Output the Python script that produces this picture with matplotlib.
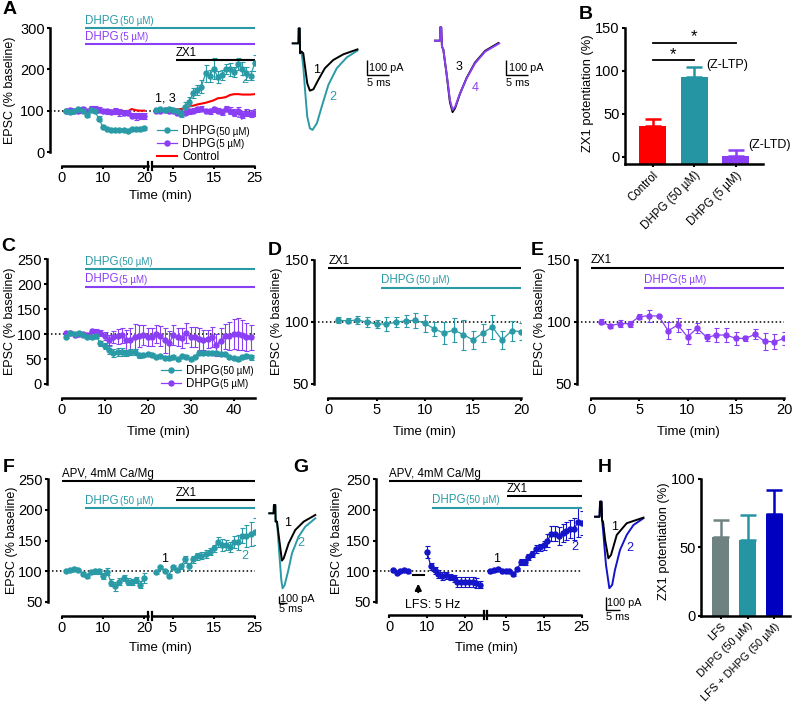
import numpy as np
import matplotlib
matplotlib.use('Agg')
import matplotlib.pyplot as plt
import matplotlib.transforms as mtransforms
from matplotlib.lines import Line2D

plt.rcParams['font.family'] = ['Liberation Sans', 'DejaVu Sans']
plt.rcParams['font.size'] = 9

TEAL = '#2a9ba6'
PURPLE = '#8b3ff5'
RED = '#ff0000'
BLUE = '#1414c8'
GREY = '#6e8282'

# ---------------- data ----------------
# A: time course (two segments split by the axis break)
a_t_pre = np.arange(1, 21)
a_t_post = np.arange(1, 26)
a50_pre = [98, 96, 98, 104, 99, 90, 101, 99, 80, 60, 55, 53, 53, 53, 53, 52, 55, 55, 56, 57]
a50_pre_err = [3, 4, 3, 4, 5, 6, 5, 5, 6, 5, 4, 3, 3, 3, 3, 3, 4, 4, 4, 4]
a50_post = [102, 103, 101, 103, 101, 99, 92, 110, 122, 142, 150, 158, 190, 184, 202, 181, 186, 200,
            200, 194, 213, 202, 190, 185, 215]
a50_post_err = [4, 4, 4, 5, 5, 6, 8, 10, 10, 12, 12, 15, 20, 15, 25, 15, 12, 12, 15, 12, 15, 15, 15, 12, 20]
a5_pre = [100, 102, 100, 100, 103, 98, 104, 105, 102, 100, 98, 96, 100, 96, 95, 95, 88, 86, 87, 88]
a5_pre_err = [4, 5, 4, 6, 7, 5, 8, 6, 6, 5, 6, 5, 7, 8, 6, 6, 6, 8, 8, 7]
a5_post = [100, 100, 101, 99, 100, 95, 94, 95, 98, 100, 103, 105, 100, 98, 103, 100, 97, 105, 100, 95,
           100, 90, 95, 93, 95]
a5_post_err = [3, 3, 3, 4, 4, 5, 5, 5, 6, 6, 6, 6, 5, 6, 7, 6, 7, 7, 8, 8, 8, 8, 8, 8, 9]
actrl_pre = [101, 101, 100, 101, 100, 101, 100, 100, 100, 101, 100, 100, 99, 98, 97, 98, 104, 101, 100, 100]
actrl_post = [99, 98, 99, 100, 101, 103, 104, 106, 110, 112, 115, 117, 119, 122, 125, 130, 131, 133,
              138, 140, 140, 139, 139, 139, 140]

# A: example EPSCs (ms, pA)
tr1_t = [0, 1.3, 1.36, 1.6, 1.67, 2.0, 2.4, 2.8, 3.3, 3.9, 4.7, 5.8, 7.3, 9.2, 11.5, 14.7]
tr1_v = [44, 44, 144, 144, -22, -11, -22, -111, -222, -271, -262, -200, -122, -67, -29, 4]
tr2_t = [0, 1.3, 1.36, 1.6, 1.67, 2.0, 2.4, 2.8, 3.3, 3.9, 4.5, 5.5, 6.6, 8.1, 10, 12.3, 14.7]
tr2_v = [44, 44, 144, 144, -22, -11, -111, -266, -444, -522, -533, -488, -377, -233, -122, -49, -4]
tr3_t = [0, 1.14, 1.2, 1.44, 1.6, 1.9, 2.65, 3.4, 4.0, 4.6, 5.7, 7.2, 9.1, 11.4, 14.4]
tr3_v = [18, 18, 107, 107, -22, -40, -205, -390, -458, -430, -335, -230, -128, -50, 2]
tr4_t = [0, 1.14, 1.2, 1.44, 1.6, 1.9, 2.65, 3.4, 4.0, 4.6, 5.7, 7.2, 9.1, 11.4, 14.6]
tr4_v = [18, 18, 107, 107, -22, -40, -200, -377, -444, -422, -333, -233, -133, -55, 0]

# B: ZX1 potentiation
b_labels = ['Control', 'DHPG (50 µM)', 'DHPG (5 µM)']
b_vals = [36, 93, 1]
b_err = [7.5, 11.5, 7]
b_colors = [RED, '#2595a3', PURPLE]

# C: long DHPG application
c_t = np.arange(1, 45)
c50 = [95, 103, 100, 101.6, 98, 95, 93.6, 96, 81.5, 76, 68, 61.5, 65, 63.5, 63, 63.5, 65, 58, 58, 60,
       58, 55, 56, 53, 51.5, 55, 49.5, 56, 55, 50, 55, 63, 61.5, 63, 61.5, 63, 60, 60, 53.5, 51.5,
       50, 53.5, 56, 53.5]
c50_err = [3, 3, 3, 3, 3, 3, 3, 4, 5, 6, 8, 8, 8, 8, 6, 6, 6, 5, 4, 4, 4, 3, 3, 3, 3, 3, 3, 3, 3, 3,
           3, 4, 4, 4, 4, 4, 4, 3, 3, 3, 3, 3, 4, 5]
c5 = [101.6, 103, 98, 100, 100, 98, 107, 105, 103, 96, 88, 95, 96, 98, 88, 88, 95, 96, 98, 95, 95, 100,
      96, 88, 81.5, 98, 95, 91.6, 101.6, 95, 95, 89.6, 88, 89.6, 93.6, 78, 87, 96, 96, 100, 100, 98,
      95, 93.6]
c5_err = [3, 3, 3, 3, 3, 4, 4, 5, 6, 8, 10, 12, 15, 15, 20, 25, 25, 22, 20, 18, 18, 18, 20, 25, 25, 20,
          18, 20, 20, 20, 20, 22, 20, 18, 20, 22, 25, 25, 28, 30, 32, 30, 28, 25]

# D / E: DHPG in ZX1
de_t = np.arange(1, 21)
d_vals = [101.3, 101, 101.6, 100, 98.4, 98.4, 99.7, 101, 101.3, 99, 94.4, 91, 93.5, 89.8, 85.5, 91,
          96, 85.5, 93, 92.2]
d_err = [2.5, 2, 3, 4, 3, 6, 4, 5, 6, 7, 6, 9, 10, 12, 7, 7, 10, 7, 8, 7]
e_vals = [100.3, 97, 98.7, 98.7, 104.3, 105, 104.8, 93, 97.6, 88, 95, 87.6, 89.5, 89.5, 86.8, 86.8,
          90, 84.4, 84, 86.8]
e_err = [2, 1.5, 3, 2.5, 2, 5, 1, 7, 6, 6, 4, 3, 6, 6, 5, 2, 4, 7, 6, 5]

# F: APV, 4 mM Ca/Mg + DHPG
f_t_pre = np.arange(1, 21)
f_t_post = np.arange(1, 26)
f_pre = [100, 101, 104, 102, 96, 92, 99, 100, 100, 92, 99, 81, 75, 83, 89, 83, 82, 86, 78, 89]
f_pre_err = [2, 2, 2, 2, 3, 3, 3, 4, 4, 5, 6, 6, 8, 5, 5, 5, 5, 5, 6, 8]
f_post = [98, 107, 100, 92, 107, 101, 108, 119, 108, 119, 124, 125, 128, 132, 137, 148, 143, 143, 139,
          147, 147, 158, 158, 161, 164]
f_post_err = [2, 2, 2, 3, 3, 3, 4, 6, 6, 6, 6, 6, 6, 5, 6, 8, 10, 8, 8, 10, 12, 12, 18, 20, 22]
f1_t = [0, 2.7, 2.9, 3.75, 3.96, 4.8, 6.25, 7.9, 9.0, 12.1, 16.25, 21.5, 28.75]
f1_v = [24, 24, 143, 143, -95, -95, -357, -652, -619, -405, -214, -95, 0]
f2_t = [0, 2.7, 2.9, 3.75, 3.96, 4.8, 6.25, 7.5, 8.3, 9.6, 11.7, 14.2, 18.3, 22.5, 28.75]
f2_v = [24, 24, 143, 143, -95, -95, -547, -928, -1047, -1000, -809, -547, -309, -167, -48]

# G: LFS + DHPG
g_t_base = [1, 2, 3, 4, 5]
g_base = [101, 97, 100, 101, 99.5]
g_base_err = [2, 2, 2, 2, 2]
g_t_lfs = np.arange(10, 25)
g_lfs = [131, 108, 101, 95, 92, 93, 90, 88, 82, 82, 82, 82, 82, 80, 78]
g_lfs_err = [10, 6, 5, 6, 6, 6, 5, 6, 8, 8, 8, 8, 8, 8, 6]
g_t_post = np.arange(1, 26)
g_post = [99.5, 101, 103, 99.5, 100, 99.5, 95.6, 102.7, 114.7, 114.7, 122.8, 128, 136, 139, 142, 150,
          161, 161, 157, 162.5, 166, 169, 169, 180, 179]
g_post_err = [2, 2, 2, 2, 2, 2, 3, 3, 5, 5, 5, 5, 6, 6, 8, 10, 12, 12, 15, 15, 15, 15, 18, 25, 20]
g1_t = [0, 1.6, 1.8, 2.3, 2.5, 2.86, 3.6, 4.75, 5.7, 7.75, 11.3, 17.25]
g1_v = [2, 2, 118, 118, -23, -38, -177, -318, -292, -138, -48, -5]
g2_t = [0, 1.6, 1.8, 2.3, 2.5, 2.86, 3.9, 5.1, 6.1, 7.1, 8.9, 11.3, 13.7, 17.25]
g2_v = [2, 2, 118, 118, -23, -100, -369, -548, -523, -408, -254, -138, -62, -10]

# H: ZX1 potentiation
h_labels = ['LFS', 'DHPG (50 µM)', 'LFS + DHPG (50 µM)']
h_vals = [57.3, 55.4, 74.4]
h_err = [12.7, 18.3, 17.6]
h_colors = [GREY, '#2595a3', '#0000c0']

# ---------------- figure ----------------
W, H = 792, 710
fig = plt.figure(figsize=(W / 100, H / 100), dpi=100)
TICK_FS = 10.5
LAB_FS = 8.3
legend_concs = []


def add_ax(x0, x1, y0, y1):
    return fig.add_axes([x0 / W, 1 - y1 / H, (x1 - x0) / W, (y1 - y0) / H])


def style(ax, left_out=0, bottom_out=0):
    ax.patch.set_visible(False)
    ax.spines['top'].set_visible(False)
    ax.spines['right'].set_visible(False)
    ax.spines['left'].set_position(('outward', left_out * 0.72))
    ax.spines['bottom'].set_position(('outward', bottom_out * 0.72))
    for s in ('left', 'bottom'):
        ax.spines[s].set_linewidth(1.8)
    ax.tick_params(direction='out', length=2.5, width=1.5, pad=1.2, labelsize=TICK_FS)


def broken_x(ax, split, off, end, out_px):
    ax.spines['bottom'].set_bounds(0, split)
    h = ax.get_position().height * H
    tr = mtransforms.blended_transform_factory(ax.transData, ax.transAxes)
    y = -out_px / h
    ax.plot([off, end], [y, y], color='k', lw=1.8, transform=tr, clip_on=False,
            solid_capstyle='butt')
    for x in (split, off):
        ax.plot([x, x], [y - 4 / h, y + 4 / h], color='k', lw=1.6, transform=tr, clip_on=False)


def baseline(ax, left_out):
    w = ax.get_position().width * W
    ax.axhline(100, xmin=-left_out / w, xmax=1, color='k', ls=(0, (1, 1.6)), lw=1.1,
               clip_on=False, zorder=0)


def drug(ax, x0, x1, y, color, name=None, conc=None):
    ax.plot([x0, x1], [y, y], color=color, lw=1.5, clip_on=False, solid_capstyle='butt')
    if name:
        t = ax.annotate(name, (x0, y), xytext=(0, 1), textcoords='offset points', ha='left',
                        va='bottom', color=color, fontsize=LAB_FS, annotation_clip=False)
        if conc:
            ax.annotate(conc, (1, 0), xycoords=t, xytext=(0.5, 0.6), textcoords='offset points',
                        ha='left', va='bottom', color=color, fontsize=7)


def series(ax, t, v, e, color, ms=3.6):
    ax.errorbar(t, v, yerr=e, color=color, ecolor=color, marker='o', ms=ms, lw=0.9,
                elinewidth=0.8, capsize=1.8, capthick=0.8)


def conc_legend(ax, handles, names, concs, anchor):
    leg = ax.legend(handles, names, loc='upper left', bbox_to_anchor=anchor, frameon=False,
                    fontsize=LAB_FS, handlelength=1.7, handletextpad=0.45, labelspacing=0.08,
                    borderpad=0, borderaxespad=0)
    for txt, c in zip(leg.get_texts(), concs):
        if c:
            legend_concs.append((txt, c))
    return leg


def handle(color):
    return Line2D([], [], color=color, marker='o', ms=3.6, lw=0.9)


def bars(ax, vals, errs, colors, width, base=0):
    x = np.arange(len(vals))
    ax.bar(x, np.array(vals) - base, bottom=base, width=width, color=colors)
    for xi, v, e, c in zip(x, vals, errs, colors):
        ax.errorbar(xi, v, yerr=[[0], [e]], color=c, elinewidth=1.8, capsize=6, capthick=1.8)


def scalebar(ax, x, y, dx, dy, lbl_y='100 pA', lbl_x='5 ms'):
    ax.plot([x, x, x + dx], [y + dy, y, y], color='k', lw=1.0, solid_capstyle='butt')
    ax.text(x + dx * 0.12, y + dy * 0.5, lbl_y, fontsize=7.8, va='center', ha='left')
    ax.text(x, y - dy * 0.2, lbl_x, fontsize=7.8, va='top', ha='left')


def label(x, y, s, **kw):
    fig.text(x / W, 1 - y / H, s, **kw)


# ---- A ----
OFF_A = 22
axA = add_ax(62, 62 + 47 * 4.1, 28, 152)
style(axA, 12, 14)
axA.set_xlim(0, 47)
axA.set_ylim(0, 300)
axA.set_yticks([0, 100, 200, 300])
axA.set_xticks([0, 10, 20, OFF_A + 5, OFF_A + 15, OFF_A + 25])
axA.set_xticklabels(['0', '10', '20', '5', '15', '25'])
broken_x(axA, 21, OFF_A, 47, 14)
baseline(axA, 12)
axA.plot(a_t_pre, actrl_pre, color=RED, lw=1.5)
axA.plot(a_t_post + OFF_A, actrl_post, color=RED, lw=1.5)
series(axA, a_t_pre, a5_pre, a5_pre_err, PURPLE)
series(axA, a_t_post + OFF_A, a5_post, a5_post_err, PURPLE)
series(axA, a_t_pre, a50_pre, a50_pre_err, TEAL)
series(axA, a_t_post + OFF_A, a50_post, a50_post_err, TEAL)
drug(axA, 5.7, 47, 300, TEAL, 'DHPG', '(50 µM)')
drug(axA, 5.7, 47, 261, PURPLE, 'DHPG', '(5 µM)')
drug(axA, OFF_A + 5.7, 47, 222, 'k', 'ZX1')
axA.text(25.1, 130, '1, 3', ha='center', va='center', fontsize=9)
axA.text(44.6, 174, '2', ha='center', va='center', fontsize=9, color=TEAL)
axA.text(43.4, 85, '4', ha='center', va='center', fontsize=9, color=PURPLE)
conc_legend(axA, [handle(TEAL), handle(PURPLE), Line2D([], [], color=RED, lw=1.5)],
            ['DHPG', 'DHPG', 'Control'], ['(50 µM)', '(5 µM)', None], (0.495, 0.215))

axTA = add_ax(285, 545, 15, 140)
axTA.set_axis_off()
axTA.set_xlim(-1.75, 57.3)
axTA.set_ylim(-600, 233)
axTA.plot(tr2_t, tr2_v, color=TEAL, lw=1.4)
axTA.plot(tr1_t, tr1_v, color='k', lw=1.4)
PAIR2 = 32.3
axTA.plot(np.array(tr3_t) + PAIR2, np.array(tr3_v) + 44, color='k', lw=1.4)
axTA.plot(np.array(tr4_t) + PAIR2, np.array(tr4_v) + 44, color=PURPLE, lw=1.4)
axTA.text(5.45, -133, '1', fontsize=9, ha='center', va='center')
axTA.text(9.2, -315, '2', fontsize=9, ha='center', va='center', color=TEAL)
axTA.text(37.8, -111, '3', fontsize=9, ha='center', va='center')
axTA.text(41.5, -251, '4', fontsize=9, ha='center', va='center', color=PURPLE)
scalebar(axTA, 16.8, -167, 5, 100)
scalebar(axTA, 48.5, -167, 5, 100)

# ---- B ----
axB = add_ax(625, 763, 27.7, 164.3)
style(axB)
axB.set_xlim(-0.667, 2.658)
axB.set_ylim(-8.8, 150)
bars(axB, b_vals, b_err, b_colors, 0.65, base=-8.8)
axB.set_yticks([0, 50, 100, 150])
axB.set_xticks(range(3))
axB.set_xticklabels(b_labels, rotation=45, ha='right', rotation_mode='anchor', fontsize=8.3)
axB.plot([0, 1], [112, 112], color='k', lw=1.3)
axB.plot([0, 2], [132, 132], color='k', lw=1.3)
axB.text(0.5, 114, '*', ha='center', va='baseline', fontsize=12)
axB.text(1.0, 134, '*', ha='center', va='baseline', fontsize=12)
axB.text(1.30, 106.6, '(Z-LTP)', ha='left', va='center', fontsize=9)
axB.text(2.30, 13.5, '(Z-LTD)', ha='left', va='center', fontsize=9, clip_on=False)

# ---- C ----
axC = add_ax(61.7, 255, 259.3, 384)
style(axC, 15, 14)
axC.set_xlim(0, 45)
axC.set_ylim(0, 250)
axC.set_yticks(range(0, 251, 50))
axC.set_xticks(range(0, 41, 10))
baseline(axC, 15)
series(axC, c_t, c5, c5_err, PURPLE)
series(axC, c_t, c50, c50_err, TEAL)
drug(axC, 5.4, 45, 230, TEAL, 'DHPG', '(50 µM)')
drug(axC, 5.4, 45, 195, PURPLE, 'DHPG', '(5 µM)')
conc_legend(axC, [handle(TEAL), handle(PURPLE)], ['DHPG', 'DHPG'], ['(50 µM)', '(5 µM)'],
            (0.515, 0.15))

# ---- D / E ----
for x0, vals, errs, col, conc, zx_y in ((328.3, d_vals, d_err, TEAL, '(50 µM)', 143.3),
                                         (591, e_vals, e_err, PURPLE, '(5 µM)', 143.8)):
    ax = add_ax(x0, x0 + 20 * 9.65, 260, 384)
    style(ax, 14, 14)
    ax.set_xlim(0, 20)
    ax.set_ylim(50, 150)
    ax.set_yticks([50, 100, 150])
    ax.set_xticks(range(0, 21, 5))
    baseline(ax, 14)
    series(ax, de_t, vals, errs, col)
    drug(ax, 0, 20, zx_y, 'k', 'ZX1')
    drug(ax, 5.5, 20, 127.8, col, 'DHPG', conc)

# ---- F ----
axF = add_ax(62, 62 + 47 * 4.1, 479.3, 601.7)
style(axF, 14, 14)
axF.set_xlim(0, 47)
axF.set_ylim(50, 250)
axF.set_yticks(range(50, 251, 50))
axF.set_xticks([0, 10, 20, OFF_A + 5, OFF_A + 15, OFF_A + 25])
axF.set_xticklabels(['0', '10', '20', '5', '15', '25'])
broken_x(axF, 21, OFF_A, 47, 14)
baseline(axF, 14)
series(axF, f_t_pre, f_pre, f_pre_err, TEAL)
series(axF, f_t_post + OFF_A, f_post, f_post_err, TEAL)
drug(axF, 0, 47, 247, 'k', 'APV, 4mM Ca/Mg')
drug(axF, OFF_A + 5.7, 47, 216, 'k', 'ZX1')
drug(axF, 5.7, 47, 202.6, TEAL, 'DHPG', '(50 µM)')
axF.text(OFF_A + 3, 119, '1', ha='center', va='center', fontsize=9)
axF.text(OFF_A + 22.6, 125, '2', ha='center', va='center', fontsize=9, color=TEAL)

axTF = add_ax(266, 320, 500, 620)
axTF.set_axis_off()
axTF.set_xlim(-2.06, 31.7)
axTF.set_ylim(-1500, 214)
axTF.plot(f2_t, f2_v, color=TEAL, lw=1.4)
axTF.plot(f1_t, f1_v, color='k', lw=1.4)
axTF.text(11.7, -110, '1', fontsize=9, ha='center', va='center')
axTF.text(20, -405, '2', fontsize=9, ha='center', va='center', color=TEAL)
scalebar(axTF, 6.25, -1257, 5, 100)

# ---- G ----
OFF_G = 25.7
axG = add_ax(389, 389 + 50.7 * 3.8, 479.3, 601.7)
style(axG, 13, 13)
axG.set_xlim(0, 50.7)
axG.set_ylim(50, 250)
axG.set_yticks(range(50, 251, 50))
axG.set_xticks([0, 10, 20, OFF_G + 5, OFF_G + 15, OFF_G + 25])
axG.set_xticklabels(['0', '10', '20', '5', '15', '25'])
broken_x(axG, 24.9, OFF_G, 50.7, 13)
baseline(axG, 13)
series(axG, g_t_base, g_base, g_base_err, BLUE)
series(axG, g_t_lfs, g_lfs, g_lfs_err, BLUE)
series(axG, g_t_post + OFF_G, g_post, g_post_err, BLUE)
drug(axG, 0, 50.7, 247, 'k', 'APV, 4mM Ca/Mg')
drug(axG, OFF_G + 5.3, 50.7, 222.7, 'k', 'ZX1')
drug(axG, 11.2, 50.7, 203.6, TEAL, 'DHPG', '(50 µM)')
axG.plot([6.4, 9.2], [93, 93], color='k', lw=1.5)
axG.annotate('', xy=(7.7, 84), xytext=(7.7, 61),
             arrowprops=dict(arrowstyle='-|>', color='k', lw=1.5, mutation_scale=9),
             annotation_clip=False)
axG.text(4.2, 45, 'LFS: 5 Hz', ha='left', va='center', fontsize=9)
axG.text(28.3, 119, '1', ha='center', va='center', fontsize=9)
axG.text(48.9, 139, '2', ha='center', va='center', fontsize=9, color=BLUE)

axTG = add_ax(590, 650, 495, 625)
axTG.set_axis_off()
axTG.set_xlim(-1.8, 19.6)
axTG.set_ylim(-831, 169)
axTG.plot(g2_t, g2_v, color=BLUE, lw=1.4)
axTG.plot(g1_t, g1_v, color='k', lw=1.4)
axTG.text(7.1, -75, '1', fontsize=9, ha='center', va='center')
axTG.text(12.25, -241, '2', fontsize=9, ha='center', va='center', color=BLUE)
scalebar(axTG, 3.8, -713, 5, 100)

# ---- H ----
axH = add_ax(701, 790, 479, 615.7)
style(axH)
axH.set_xlim(-0.74, 2.59)
axH.set_ylim(0, 100)
bars(axH, h_vals, h_err, h_colors, 0.63)
axH.set_yticks([0, 50, 100])
axH.set_xticks(range(3))
axH.set_xticklabels(h_labels, rotation=45, ha='right', rotation_mode='anchor', fontsize=7.9)

# ---- axis labels and panel letters ----
ylab = 'EPSC (% baseline)'
for x, y in ((10, 90), (10, 321), (277, 321), (540, 321), (12, 540), (337, 540)):
    label(x, y, ylab, rotation=90, ha='center', va='center', fontsize=9)
for x, y in ((588, 93), (664, 541)):
    label(x, y, 'ZX1 potentiation (%)', rotation=90, ha='center', va='center', fontsize=9.3)
for x, y in ((160, 196), (158, 432), (424, 432), (688, 432), (160, 648), (486, 648)):
    label(x, y, 'Time (min)', ha='center', va='center', fontsize=9.5)
for x, y, s in ((3, 1, 'A'), (579, 6, 'B'), (1, 238, 'C'), (268, 242, 'D'), (531, 242, 'E'),
                (3, 459, 'F'), (293, 459, 'G'), (598, 459, 'H')):
    label(x, y, s, ha='left', va='top', fontsize=14, fontweight='bold')

# concentration subscripts in the legends need the laid-out legend text
fig.canvas.draw()
for txt, c in legend_concs:
    bb = txt.get_window_extent()
    fig.text((bb.x1 + 0.7) / W, (bb.y0 + 0.8) / H, c, ha='left', va='bottom', fontsize=7)

fig.savefig('out.png', dpi=100)
